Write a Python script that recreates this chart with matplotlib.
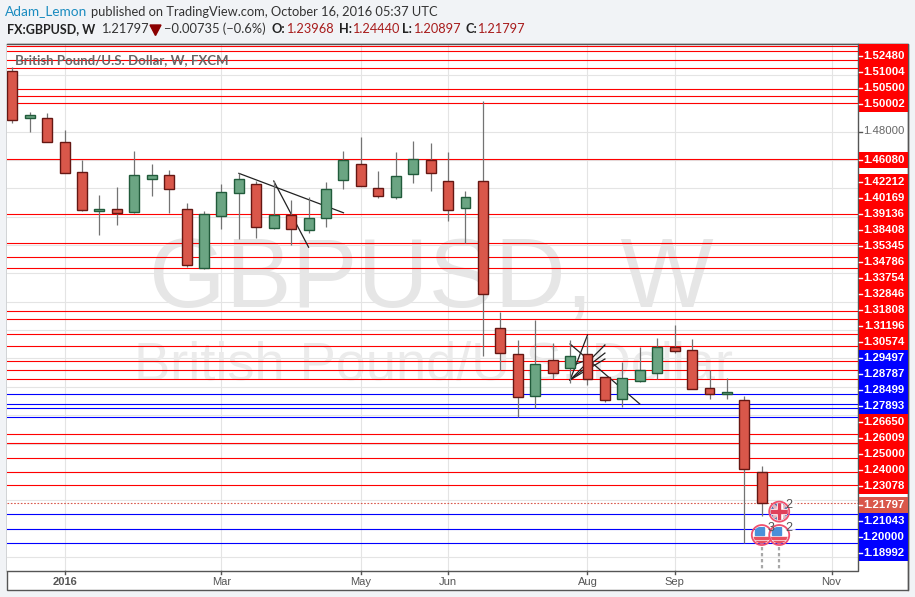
import datetime as dt
import numpy as np
import matplotlib
matplotlib.use('Agg')
import matplotlib.pyplot as plt
import matplotlib.dates as mdates
from matplotlib.patches import Circle, Rectangle, Polygon

plt.rcParams['font.family'] = ['Liberation Sans', 'DejaVu Sans']

# weekly candles, first one is the week of 14 Dec 2015
firstWeek = dt.date(2015, 12, 14)
opens = [1.5226, 1.4895, 1.4895, 1.4726, 1.4512, 1.4239, 1.4251, 1.4235, 1.4467, 1.4491, 1.4251,
         1.3840, 1.4202, 1.4364, 1.4428, 1.4117, 1.4209, 1.4103, 1.4188, 1.4456, 1.4569, 1.4399,
         1.4338, 1.4498, 1.4597, 1.4449, 1.4258, 1.4449, 1.3412, 1.3229, 1.2933, 1.3187, 1.3130,
         1.3229, 1.3067, 1.2912, 1.3039, 1.3095, 1.3278, 1.3257, 1.2989, 1.2949, 1.2905, 1.23968]
highs = [1.5255, 1.4937, 1.4930, 1.4810, 1.4599, 1.4352, 1.4409, 1.4662, 1.4571, 1.4528, 1.4296,
         1.4239, 1.4430, 1.4507, 1.4451, 1.4451, 1.4317, 1.4338, 1.4444, 1.4662, 1.4761, 1.4521,
         1.4655, 1.4733, 1.4719, 1.4655, 1.4380, 1.5015, 1.3527, 1.3330, 1.3471, 1.3309, 1.3330,
         1.3358, 1.3067, 1.3177, 1.3281, 1.3346, 1.3436, 1.3337, 1.3116, 1.3060, 1.2937, 1.24440]
lows = [1.4860, 1.4796, 1.4726, 1.4507, 1.4239, 1.4072, 1.4141, 1.4225, 1.4345, 1.4225, 1.3845,
        1.3831, 1.4113, 1.4042, 1.4049, 1.4113, 1.4000, 1.4084, 1.4127, 1.4395, 1.4414, 1.4331,
        1.4324, 1.4439, 1.4383, 1.4171, 1.4012, 1.3219, 1.3118, 1.2785, 1.2848, 1.3057, 1.3027,
        1.3015, 1.2893, 1.2860, 1.3032, 1.3053, 1.3236, 1.2982, 1.2912, 1.2912, 1.1897, 1.20897]
closes = [1.4881, 1.4916, 1.4726, 1.4507, 1.4244, 1.4254, 1.4227, 1.4493, 1.4491, 1.4392, 1.3857,
          1.4216, 1.4371, 1.4463, 1.4125, 1.4209, 1.4110, 1.4188, 1.4392, 1.4599, 1.4414, 1.4343,
          1.4484, 1.4604, 1.4505, 1.4244, 1.4336, 1.3652, 1.3236, 1.2926, 1.3159, 1.3095, 1.3215,
          1.3053, 1.2905, 1.3060, 1.3116, 1.3278, 1.3250, 1.2982, 1.2947, 1.2963, 1.2418, 1.21797]

# horizontal levels drawn on the chart
hiddenLevels = [1.5403, 1.5367, 1.5304]
upperLevels = [1.52480, 1.51004, 1.50500, 1.50002]
midLevel = 1.46080
stackLevels = [1.42212, 1.40169, 1.39136, 1.38408, 1.35345, 1.34786, 1.33754, 1.32846, 1.31808, 1.31196,
               1.30574, 1.29497, 1.28787, 1.28499, 1.27893, 1.26650, 1.26009, 1.25000, 1.24000, 1.23078]
blueLevels = [1.29497, 1.28787, 1.28499, 1.27893]
lastPrice = 1.21797
lowLevels = [1.21043, 1.20000, 1.18992]

gridPrices = [1.18, 1.20, 1.22, 1.24, 1.26, 1.28, 1.30, 1.32, 1.34, 1.36, 1.38,
              1.40, 1.42, 1.44, 1.46, 1.48, 1.50, 1.52, 1.54]
monthDates = [dt.date(2016, 1, 4), dt.date(2016, 3, 7), dt.date(2016, 5, 2), dt.date(2016, 6, 6),
              dt.date(2016, 8, 1), dt.date(2016, 9, 5), dt.date(2016, 11, 7)]
monthLabels = ['2016', 'Mar', 'May', 'Jun', 'Aug', 'Sep', 'Nov']

# hand drawn lines: candle number and price at both ends
trendStartWeek = [13, 15, 32, 32, 32, 32, 32, 32]
trendStartPrice = [1.4505, 1.4451, 1.3302, 1.3048, 1.3048, 1.3048, 1.3048, 1.3147]
trendEndWeek = [19, 17, 36, 33, 34, 34, 34, 33]
trendEndPrice = [1.4227, 1.3984, 1.2879, 1.3365, 1.3295, 1.3238, 1.3196, 1.3189]

# calendar events: week, price of the icon, count next to it
eventDates = [dt.date(2016, 10, 17), dt.date(2016, 10, 10), dt.date(2016, 10, 17)]
eventPrices = [1.2120, 1.1955, 1.1955]
eventCounts = ['2', '3', '2']
eventFlags = ['uk', 'us', 'us']

RED = '#d9574a'
RED_EDGE = '#651713'
GREEN = '#6ba583'
GREEN_EDGE = '#215b3b'
FRAME = '#555555'
BACK = '#f1f3f6'
HEADFONT = 'Lato'

fig = plt.figure(figsize=(9.15, 5.97), dpi=100, facecolor=BACK)
W, H = 915.0, 597.0
paneL, paneR, paneT, paneB = 6.5, 858.0, 43.5, 571.0

# overlay in pixels for everything round the chart
over = fig.add_axes([0, 0, 1, 1], zorder=5)
over.set_xlim(0, W)
over.set_ylim(H, 0)
over.axis('off')
over.patch.set_alpha(0)

ax = fig.add_axes([paneL / W, 1 - paneB / H, (paneR - paneL) / W, (paneB - paneT) / H], zorder=2)
ax.set_facecolor('white')
pxPerDay = 17.43 / 7
start = mdates.date2num(firstWeek)
ax.set_xlim(start - (12.3 - paneL) / pxPerDay, start + (paneR - 12.3) / pxPerDay)
ax.set_ylim(1.48 - (paneB - 131.5) / 1418.4, 1.48 + (131.5 - paneT) / 1418.4)
for s in ax.spines.values():
    s.set_visible(False)
ax.tick_params(left=False, bottom=False, labelleft=False, labelbottom=False)

# outer white panel behind the axes
fig.patches.append(Rectangle((6.5 / W, 1 - 590.3 / H), 901.5 / W, 546.8 / H, transform=fig.transFigure,
                             facecolor='white', edgecolor=FRAME, lw=1.0, zorder=0))

monthNums = mdates.date2num(monthDates)
for p in gridPrices:
    ax.axhline(p, color='#e4e4e4', lw=0.8, zorder=1)
for m in monthNums:
    ax.axvline(m, color='#e4e4e4', lw=0.8, zorder=1)

ax.text(431, 281, 'GBPUSD, W', transform=over.transData, fontsize=71, color='#e6e6e6',
        ha='center', va='center', zorder=1.5)
ax.text(434, 366, 'British Pound/U.S. Dollar', transform=over.transData, fontsize=39, color='#ebebeb',
        ha='center', va='center', zorder=1.5)

for p in hiddenLevels + upperLevels + [midLevel] + stackLevels:
    c = '#0000ff' if p in blueLevels else '#ff0000'
    ax.axhline(p, color=c, lw=0.8, zorder=2, xmax=0.9985)
for p in lowLevels:
    ax.axhline(p, color='#0000ff', lw=0.8, zorder=2, xmax=0.9985)
ax.axhline(lastPrice, color=RED, lw=0.8, ls=(0, (1.5, 1.5)), zorder=2)

weeks = start + 7 * np.arange(len(opens))

for a, b, pa, pb in zip(trendStartWeek, trendEndWeek, trendStartPrice, trendEndPrice):
    ax.plot([weeks[a], weeks[b]], [pa, pb], color='#222222', lw=0.9, zorder=3)

opens = np.array(opens)
closes = np.array(closes)
ax.vlines(weeks, lows, highs, color='#737373', lw=0.9, zorder=4)
up = closes >= opens
ax.bar(weeks[up], (closes - opens)[up], bottom=opens[up], width=4.0, color=GREEN, edgecolor=GREEN_EDGE,
       lw=1.0, zorder=5)
ax.bar(weeks[~up], (opens - closes)[~up], bottom=closes[~up], width=4.0, color=RED, edgecolor=RED_EDGE,
       lw=1.0, zorder=5)


def toPixels(date, price):
    d = ax.transData.transform((mdates.date2num(date), price))
    return over.transData.inverted().transform(d)


def drawFlag(cx, cy, kind):
    clip = Circle((cx, cy), 8.5, transform=over.transData)
    parts = []
    if kind == 'uk':
        parts.append(Rectangle((cx - 9, cy - 9), 18, 18, color='#3e5ea6'))
        parts.append(Polygon([(cx - 9, cy - 8), (cx - 7, cy - 9), (cx + 9, cy + 8), (cx + 7, cy + 9)], color='#e8b4bc'))
        parts.append(Polygon([(cx + 9, cy - 8), (cx + 7, cy - 9), (cx - 9, cy + 8), (cx - 7, cy + 9)], color='#e8b4bc'))
        parts.append(Rectangle((cx - 9, cy - 2.5), 18, 5, color='white'))
        parts.append(Rectangle((cx - 2.5, cy - 9), 5, 18, color='white'))
        parts.append(Rectangle((cx - 9, cy - 1.2), 18, 2.4, color='#e0405a'))
        parts.append(Rectangle((cx - 1.2, cy - 9), 2.4, 18, color='#e0405a'))
    else:
        parts.append(Rectangle((cx - 9, cy - 9), 18, 18, color='white'))
        parts.append(Rectangle((cx - 7, cy - 8), 9, 8, color='#4a90d9'))
        parts.append(Rectangle((cx - 9, cy + 1.5), 18, 2.2, color='#e8505f'))
        parts.append(Rectangle((cx - 9, cy + 5.5), 18, 2.2, color='#e8505f'))
    for part in parts:
        over.add_patch(part)
        part.set_clip_path(clip)
    over.add_patch(Circle((cx, cy), 10, facecolor='none', edgecolor='#f0506e', lw=1.3))


for d in eventDates[1:]:
    x = toPixels(d, 1.2)[0]
    over.plot([x, x], [547, 571], color='#a8a8a8', lw=1.6, ls=(0, (1.5, 1.2)), zorder=1)
for d, p, f in zip(eventDates, eventPrices, eventFlags):
    cx, cy = toPixels(d, p)
    over.add_patch(Circle((cx + 9.5, cy - 7), 7, facecolor='white', edgecolor='none', alpha=0.8))
    drawFlag(cx, cy, f)
for d, p, n in zip(eventDates, eventPrices, eventCounts):
    cx, cy = toPixels(d, p)
    over.text(cx + 9.5, cy - 7, n, fontsize=9, color='#555555', ha='center', va='center', zorder=3)

# frame of the pane
over.plot([paneL, paneR, paneR], [paneB, paneB, paneT], color=FRAME, lw=1.0)
over.plot([paneL, 908, 908], [43.5, 43.5, 590.3], color=FRAME, lw=1.0)

# time axis
for m, lab in zip(monthDates, monthLabels):
    x = toPixels(m, 1.2)[0]
    over.plot([x, x], [paneB, paneB + 3], color=FRAME, lw=1.0)
    over.text(x, 582, lab, fontsize=8, color='#555555', ha='center', va='center',
              fontweight='bold' if lab == '2016' else 'normal')

# price axis, labels pushed apart when they would overlap
boxL, boxW = 858.7, 48.8
labelX = 904.5


def priceLabel(y, price, bg, top=None, bottom=None):
    t = y - 8 if top is None else top
    b = y + 8 if bottom is None else bottom
    over.add_patch(Rectangle((boxL, t), boxW, b - t, facecolor=bg, edgecolor='none', zorder=3))
    over.plot([boxL, boxL + 3.5], [y, y], color='white', lw=1.0, zorder=4)
    over.text(labelX, y, '%.5f' % price, color='white', fontsize=8.2, fontweight='bold',
              ha='right', va='center', zorder=4)


for p, y in [(1.48, 131.5), (1.18, 557)]:
    over.plot([boxL, boxL + 3.5], [y, y], color=FRAME, lw=1.0, zorder=2)
    over.text(labelX, y, '%.5f' % p, color='#666666', fontsize=8.2, ha='right', va='center', zorder=2)

for i, p in enumerate(upperLevels):
    priceLabel(56 + 16 * i, p, '#ff0000', top=44 if i == 0 else None)
priceLabel(160, midLevel, '#ff0000')
for i, p in enumerate(stackLevels):
    priceLabel(182 + 16 * i, p, '#0000ff' if p in blueLevels else '#ff0000')
priceLabel(505, lastPrice, RED)
for i, p in enumerate(lowLevels):
    priceLabel(521 + 16 * i, p, '#0000ff')

# header
over.text(5, 11.5, 'Adam_Lemon', family=HEADFONT, fontsize=9.8, color='#1b8cc0', va='center')
over.text(91, 11.5, 'published on TradingView.com, October 16, 2016 05:37 UTC', family=HEADFONT,
          fontsize=9.25, color='#333333', va='center')
over.text(7, 29, 'FX:GBPUSD, W', family=HEADFONT, fontsize=9, fontweight='bold', color='#222222', va='center')
over.text(101, 29, '1.21797', family=HEADFONT, fontsize=9.2, color='#333333', va='center')
over.add_patch(Polygon([(150, 25), (161, 25), (155.5, 35.5)], color='#8b0000'))
over.text(164, 29, '\u22120.00735 (\u22120.6%)', family=HEADFONT, fontsize=9.3, color='#333333', va='center')
for name, nx, val, vx in [('O:', 272, '1.23968', 286), ('H:', 339, '1.24440', 352),
                          ('L:', 402, '1.20897', 413), ('C:', 466, '1.21797', 477)]:
    over.text(nx, 29, name, family=HEADFONT, fontsize=9.2, fontweight='bold', color='#222222', va='center')
    over.text(vx, 29, val, family=HEADFONT, fontsize=9.2, color='#a81c1c', va='center')

over.text(15, 60.5, 'British Pound/U.S. Dollar, W, FXCM', family=HEADFONT, fontsize=9.5, fontweight='bold',
          color='#666666', va='center')

fig.savefig('out.png', dpi=100, facecolor=BACK)
